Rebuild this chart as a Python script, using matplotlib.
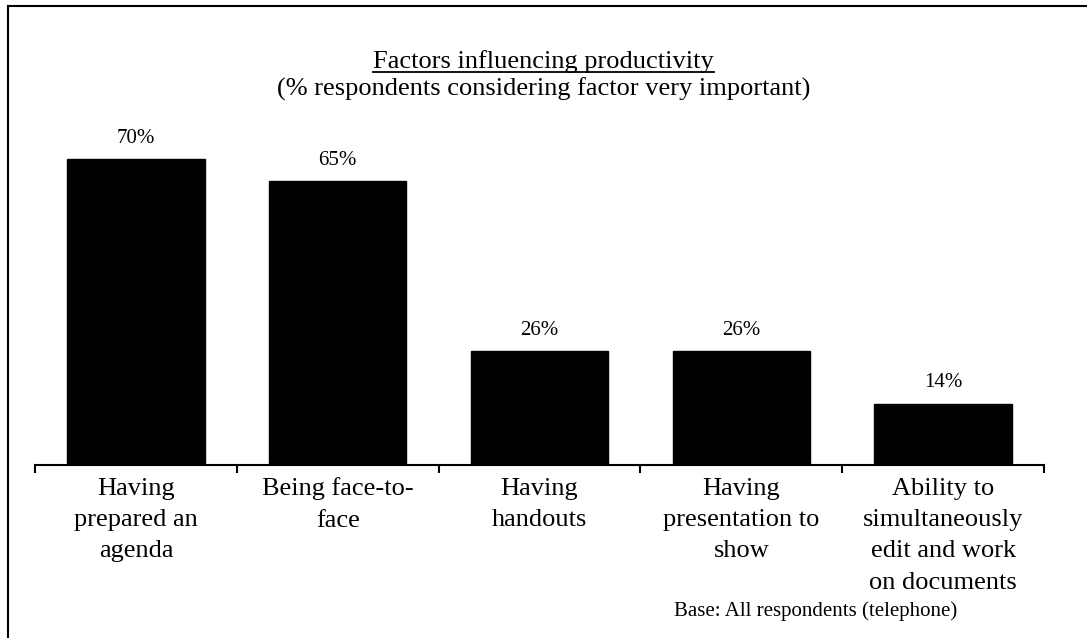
import matplotlib
matplotlib.use("Agg")
import matplotlib.pyplot as plt
from matplotlib.lines import Line2D

categories = [
    "Having\nprepared an\nagenda",
    "Being face-to-\nface",
    "Having\nhandouts",
    "Having\npresentation to\nshow",
    "Ability to\nsimultaneously\nedit and work\non documents",
]
values = [70, 65, 26, 26, 14]
value_labels = ["70%", "65%", "26%", "26%", "14%"]

title = "Factors influencing productivity"
subtitle = "(% respondents considering factor very important)"
base_note = "Base: All respondents (telephone)"

plt.rcParams["font.family"] = ["Liberation Serif", "DejaVu Serif"]

W, H = 1087, 638
fig = plt.figure(figsize=(W / 100, H / 100), dpi=100)
fig.patch.set_facecolor("white")

ax = fig.add_axes([35 / W, (H - 465) / H, (1044 - 35) / W, 349.7 / H])
x = list(range(len(values)))
ax.bar(x, values, width=0.68, color="black", edgecolor="black")
ax.set_xlim(-0.5, len(values) - 0.5)
ax.set_ylim(0, 80)

for xi, v, lab in zip(x, values, value_labels):
    ax.annotate(lab, (xi, v), xytext=(0, 15), textcoords="offset points",
                ha="center", va="center", fontsize=15)

for side in ("top", "right", "left"):
    ax.spines[side].set_visible(False)
ax.spines["bottom"].set_linewidth(1.5)
ax.set_yticks([])

# boundary ticks between categories, labels at category centres
ax.set_xticks([i - 0.5 for i in range(len(values) + 1)])
ax.set_xticklabels([])
ax.tick_params(axis="x", which="major", direction="out", length=6, width=1.5)
ax.set_xticks(x, minor=True)
ax.set_xticklabels(categories, minor=True, fontsize=19, linespacing=1.55)
ax.tick_params(axis="x", which="minor", length=0, pad=9)

t = fig.text(0.5, 1 - 62 / H, title, ha="center", va="center", fontsize=19)
fig.text(0.5, 1 - 89 / H, subtitle, ha="center", va="center", fontsize=19)
fig.text(816 / W, 1 - 611 / H, base_note, ha="center", va="center", fontsize=15)

# underline under the title
fig.canvas.draw()
bb = t.get_window_extent()
uy = bb.y0 + 1.5
fig.add_artist(Line2D([bb.x0 / W, bb.x1 / W], [uy / H, uy / H],
                      transform=fig.transFigure, color="black", lw=1.3))

# frame lines along the top and left edges
fig.add_artist(Line2D([7.5 / W, 1.0], [1 - 5.5 / H, 1 - 5.5 / H],
                      transform=fig.transFigure, color="black", lw=1.5))
fig.add_artist(Line2D([7.5 / W, 7.5 / W], [0.0, 1 - 5.5 / H],
                      transform=fig.transFigure, color="black", lw=1.5))

fig.savefig("out.png", dpi=100, facecolor="white")
